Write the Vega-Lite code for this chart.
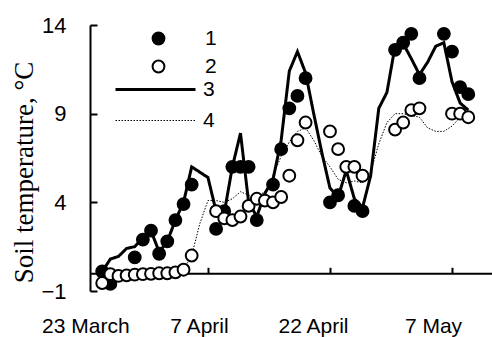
{
  "$schema": "https://vega.github.io/schema/vega-lite/v6.json",
  "width": 402,
  "height": 266,
  "autosize": "none",
  "padding": {"left": 90, "top": 25, "right": 0, "bottom": 46},
  "background": "white",
  "config": {
    "view": {"stroke": null},
    "font": "Liberation Sans",
    "legend": {"labelFont": "Liberation Sans", "labelFontSize": 21, "labelColor": "black", "padding": 0, "titlePadding": 0}
  },
  "data": {"values": [
    {"date":"2021-03-25","series":"1","t":0.1},
    {"date":"2021-03-26","series":"1","t":-0.6},
    {"date":"2021-03-29","series":"1","t":0.9},
    {"date":"2021-03-30","series":"1","t":1.9},
    {"date":"2021-03-31","series":"1","t":2.4},
    {"date":"2021-04-01","series":"1","t":1.1},
    {"date":"2021-04-02","series":"1","t":1.8},
    {"date":"2021-04-03","series":"1","t":3.0},
    {"date":"2021-04-04","series":"1","t":3.9},
    {"date":"2021-04-05","series":"1","t":5.0},
    {"date":"2021-04-08","series":"1","t":2.5},
    {"date":"2021-04-09","series":"1","t":3.5},
    {"date":"2021-04-10","series":"1","t":6.0},
    {"date":"2021-04-11","series":"1","t":6.0},
    {"date":"2021-04-12","series":"1","t":6.0},
    {"date":"2021-04-13","series":"1","t":3.0},
    {"date":"2021-04-15","series":"1","t":5.0},
    {"date":"2021-04-16","series":"1","t":7.0},
    {"date":"2021-04-17","series":"1","t":9.3},
    {"date":"2021-04-18","series":"1","t":10.0},
    {"date":"2021-04-19","series":"1","t":11.0},
    {"date":"2021-04-22","series":"1","t":4.0},
    {"date":"2021-04-23","series":"1","t":4.4},
    {"date":"2021-04-25","series":"1","t":3.8},
    {"date":"2021-04-26","series":"1","t":3.5},
    {"date":"2021-04-30","series":"1","t":12.6},
    {"date":"2021-05-01","series":"1","t":13.0},
    {"date":"2021-05-02","series":"1","t":13.5},
    {"date":"2021-05-03","series":"1","t":11.0},
    {"date":"2021-05-06","series":"1","t":13.5},
    {"date":"2021-05-07","series":"1","t":12.5},
    {"date":"2021-05-08","series":"1","t":10.5},
    {"date":"2021-05-09","series":"1","t":10.1},
    {"date":"2021-03-25","series":"2","t":-0.55},
    {"date":"2021-03-26","series":"2","t":-0.05},
    {"date":"2021-03-27","series":"2","t":-0.15},
    {"date":"2021-03-28","series":"2","t":-0.12},
    {"date":"2021-03-29","series":"2","t":-0.08},
    {"date":"2021-03-30","series":"2","t":-0.05},
    {"date":"2021-03-31","series":"2","t":-0.03},
    {"date":"2021-04-01","series":"2","t":0.0},
    {"date":"2021-04-02","series":"2","t":0.0},
    {"date":"2021-04-03","series":"2","t":0.05},
    {"date":"2021-04-04","series":"2","t":0.2},
    {"date":"2021-04-05","series":"2","t":1.0},
    {"date":"2021-04-08","series":"2","t":3.5},
    {"date":"2021-04-09","series":"2","t":3.1},
    {"date":"2021-04-10","series":"2","t":3.0},
    {"date":"2021-04-11","series":"2","t":3.2},
    {"date":"2021-04-12","series":"2","t":3.8},
    {"date":"2021-04-13","series":"2","t":4.2},
    {"date":"2021-04-14","series":"2","t":4.1},
    {"date":"2021-04-15","series":"2","t":4.0},
    {"date":"2021-04-16","series":"2","t":4.3},
    {"date":"2021-04-17","series":"2","t":5.5},
    {"date":"2021-04-18","series":"2","t":7.5},
    {"date":"2021-04-19","series":"2","t":8.5},
    {"date":"2021-04-22","series":"2","t":8.0},
    {"date":"2021-04-23","series":"2","t":7.0},
    {"date":"2021-04-24","series":"2","t":6.0},
    {"date":"2021-04-25","series":"2","t":6.0},
    {"date":"2021-04-26","series":"2","t":5.5},
    {"date":"2021-04-30","series":"2","t":8.1},
    {"date":"2021-05-01","series":"2","t":8.5},
    {"date":"2021-05-02","series":"2","t":9.2},
    {"date":"2021-05-03","series":"2","t":9.3},
    {"date":"2021-05-07","series":"2","t":9.0},
    {"date":"2021-05-08","series":"2","t":9.0},
    {"date":"2021-05-09","series":"2","t":8.8},
    {"date":"2021-03-25","series":"3","t":0.1},
    {"date":"2021-03-26","series":"3","t":0.8},
    {"date":"2021-03-27","series":"3","t":0.95},
    {"date":"2021-03-28","series":"3","t":1.4},
    {"date":"2021-03-29","series":"3","t":1.5},
    {"date":"2021-03-30","series":"3","t":2.0},
    {"date":"2021-03-31","series":"3","t":2.4},
    {"date":"2021-04-01","series":"3","t":1.2},
    {"date":"2021-04-02","series":"3","t":1.8},
    {"date":"2021-04-03","series":"3","t":3.0},
    {"date":"2021-04-04","series":"3","t":4.0},
    {"date":"2021-04-05","series":"3","t":6.0},
    {"date":"2021-04-06","series":"3","t":5.7},
    {"date":"2021-04-07","series":"3","t":5.4},
    {"date":"2021-04-08","series":"3","t":3.5},
    {"date":"2021-04-09","series":"3","t":3.4},
    {"date":"2021-04-10","series":"3","t":6.0},
    {"date":"2021-04-11","series":"3","t":7.9},
    {"date":"2021-04-12","series":"3","t":4.0},
    {"date":"2021-04-13","series":"3","t":3.2},
    {"date":"2021-04-14","series":"3","t":4.5},
    {"date":"2021-04-15","series":"3","t":5.3},
    {"date":"2021-04-16","series":"3","t":7.5},
    {"date":"2021-04-17","series":"3","t":11.4},
    {"date":"2021-04-18","series":"3","t":12.5},
    {"date":"2021-04-19","series":"3","t":11.3},
    {"date":"2021-04-20","series":"3","t":9.0},
    {"date":"2021-04-21","series":"3","t":6.8},
    {"date":"2021-04-22","series":"3","t":4.8},
    {"date":"2021-04-23","series":"3","t":4.3},
    {"date":"2021-04-24","series":"3","t":5.8},
    {"date":"2021-04-25","series":"3","t":4.2},
    {"date":"2021-04-26","series":"3","t":3.7},
    {"date":"2021-04-27","series":"3","t":5.5},
    {"date":"2021-04-28","series":"3","t":9.3},
    {"date":"2021-04-29","series":"3","t":10.2},
    {"date":"2021-04-30","series":"3","t":12.8},
    {"date":"2021-05-01","series":"3","t":12.95},
    {"date":"2021-05-02","series":"3","t":12.1},
    {"date":"2021-05-03","series":"3","t":11.2},
    {"date":"2021-05-04","series":"3","t":11.9},
    {"date":"2021-05-05","series":"3","t":12.8},
    {"date":"2021-05-06","series":"3","t":13.0},
    {"date":"2021-05-07","series":"3","t":10.8},
    {"date":"2021-05-08","series":"3","t":9.6},
    {"date":"2021-05-09","series":"3","t":9.2},
    {"date":"2021-03-25","series":"4","t":-0.4},
    {"date":"2021-03-26","series":"4","t":-0.2},
    {"date":"2021-03-27","series":"4","t":-0.15},
    {"date":"2021-03-28","series":"4","t":-0.1},
    {"date":"2021-03-29","series":"4","t":-0.1},
    {"date":"2021-03-30","series":"4","t":-0.05},
    {"date":"2021-03-31","series":"4","t":-0.05},
    {"date":"2021-04-01","series":"4","t":0.0},
    {"date":"2021-04-02","series":"4","t":0.0},
    {"date":"2021-04-03","series":"4","t":0.05},
    {"date":"2021-04-04","series":"4","t":0.2},
    {"date":"2021-04-05","series":"4","t":1.0},
    {"date":"2021-04-06","series":"4","t":2.8},
    {"date":"2021-04-07","series":"4","t":4.1},
    {"date":"2021-04-08","series":"4","t":4.1},
    {"date":"2021-04-09","series":"4","t":4.0},
    {"date":"2021-04-10","series":"4","t":4.2},
    {"date":"2021-04-11","series":"4","t":4.6},
    {"date":"2021-04-12","series":"4","t":4.4},
    {"date":"2021-04-13","series":"4","t":4.3},
    {"date":"2021-04-14","series":"4","t":4.6},
    {"date":"2021-04-15","series":"4","t":5.5},
    {"date":"2021-04-16","series":"4","t":6.6},
    {"date":"2021-04-17","series":"4","t":7.4},
    {"date":"2021-04-18","series":"4","t":8.0},
    {"date":"2021-04-19","series":"4","t":8.2},
    {"date":"2021-04-20","series":"4","t":7.5},
    {"date":"2021-04-21","series":"4","t":6.6},
    {"date":"2021-04-22","series":"4","t":6.0},
    {"date":"2021-04-23","series":"4","t":5.3},
    {"date":"2021-04-24","series":"4","t":5.1},
    {"date":"2021-04-25","series":"4","t":5.2},
    {"date":"2021-04-26","series":"4","t":5.1},
    {"date":"2021-04-27","series":"4","t":5.7},
    {"date":"2021-04-28","series":"4","t":7.3},
    {"date":"2021-04-29","series":"4","t":8.5},
    {"date":"2021-04-30","series":"4","t":9.0},
    {"date":"2021-05-01","series":"4","t":9.0},
    {"date":"2021-05-02","series":"4","t":8.9},
    {"date":"2021-05-03","series":"4","t":8.8},
    {"date":"2021-05-04","series":"4","t":8.2},
    {"date":"2021-05-05","series":"4","t":8.0},
    {"date":"2021-05-06","series":"4","t":8.0},
    {"date":"2021-05-07","series":"4","t":8.3},
    {"date":"2021-05-08","series":"4","t":8.8},
    {"date":"2021-05-09","series":"4","t":8.8}
  ]},
  "encoding": {
    "x": {
      "field": "date",
      "type": "temporal",
      "scale": {"type": "utc", "domain": [
        {"year": 2021, "month": 3, "date": 23, "hours": 12, "utc": true},
        {"year": 2021, "month": 5, "date": 11, "hours": 22, "utc": true}
      ]},
      "axis": {
        "title": null,
        "grid": false,
        "offset": -17.7,
        "values": [
          {"year": 2021, "month": 3, "date": 23, "hours": 13, "utc": true},
          {"year": 2021, "month": 4, "date": 7, "utc": true},
          {"year": 2021, "month": 4, "date": 22, "utc": true},
          {"year": 2021, "month": 5, "date": 7, "utc": true}
        ],
        "labelExpr": "utcFormat(datum.value, '%-d %B')",
        "labelFont": "Liberation Sans",
        "labelFontSize": 21,
        "labelColor": "black",
        "labelFlush": false,
        "labelOverlap": false,
        "labelBound": false,
        "labelPadding": 48,
        "labelOffset": {"condition": [
          {"test": "utcmonth(datum.value) == 3 && utcdate(datum.value) == 7", "value": -9},
          {"test": "utcmonth(datum.value) == 3 && utcdate(datum.value) == 22", "value": -17},
          {"test": "utcmonth(datum.value) == 4", "value": -19}
        ], "value": -5},
        "tickOpacity": {"condition": {"test": "utcmonth(datum.value) == 2", "value": 0}, "value": 1},
        "domainColor": "black",
        "domainWidth": 2,
        "tickColor": "black",
        "tickWidth": 2,
        "tickSize": -6
      }
    },
    "y": {
      "field": "t",
      "type": "quantitative",
      "scale": {"domain": [-1, 14], "nice": false, "zero": false},
      "axis": {
        "title": "Soil temperature, °C",
        "titleFont": "Liberation Serif",
        "titleFontSize": 27,
        "titleFontWeight": "normal",
        "titleColor": "black",
        "titleAngle": -90,
        "titleAlign": "center",
        "titleBaseline": "alphabetic",
        "titleX": -58,
        "titleY": 147,
        "grid": false,
        "values": [-1, 4, 9, 14],
        "labelFont": "Liberation Sans",
        "labelFontSize": 22,
        "labelColor": "black",
        "labelFlush": false,
        "labelPadding": 31,
        "domainColor": "black",
        "domainWidth": 2,
        "tickColor": "black",
        "tickWidth": 2,
        "tickSize": -7
      }
    }
  },
  "layer": [
    {
      "transform": [{"filter": "datum.series == '3' || datum.series == '4'"}],
      "mark": {"type": "line", "color": "black"},
      "encoding": {
        "strokeDash": {
          "field": "series", "type": "nominal",
          "scale": {"domain": ["3", "4"], "range": [[1, 0], [1.5, 1.5]]},
          "legend": {
            "title": null, "orient": "none", "legendX": 55, "legendY": 54,
            "symbolType": "M-40,0L40,0", "symbolSize": 4,
            "symbolStrokeColor": "black",
            "labelOffset": 37, "rowPadding": 9
          }
        },
        "strokeWidth": {
          "field": "series", "type": "nominal",
          "scale": {"domain": ["3", "4"], "range": [3, 1]},
          "legend": {
            "title": null, "orient": "none", "legendX": 55, "legendY": 54,
            "symbolType": "M-40,0L40,0", "symbolSize": 4,
            "symbolStrokeColor": "black",
            "labelOffset": 37, "rowPadding": 9
          }
        }
      }
    },
    {
      "transform": [{"filter": "datum.series == '1' || datum.series == '2'"}],
      "mark": {"type": "point", "shape": "circle", "filled": true, "stroke": "black", "strokeWidth": 2, "size": 140, "opacity": 1},
      "encoding": {
        "fill": {
          "field": "series", "type": "nominal",
          "scale": {"domain": ["1", "2"], "range": ["black", "white"]},
          "legend": {
            "title": null, "orient": "none", "legendX": 58, "legendY": 3,
            "symbolType": "circle", "symbolSize": 140,
            "symbolStrokeColor": "black", "symbolStrokeWidth": 2,
            "labelOffset": 36, "rowPadding": 6
          }
        }
      }
    }
  ]
}
